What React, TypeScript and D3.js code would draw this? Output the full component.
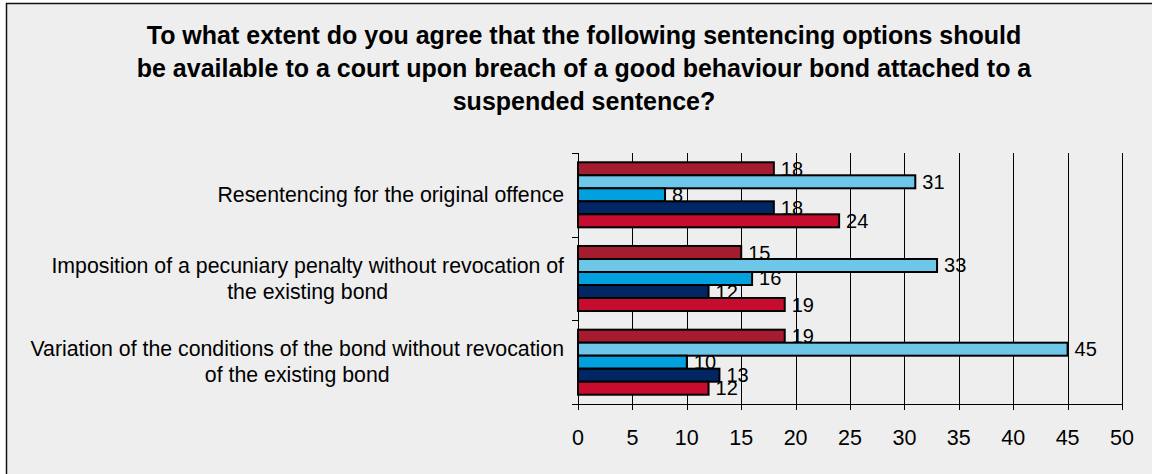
import * as React from 'react';
import * as d3 from 'd3';

// chart data
const categories: string[][] = [
  ['Resentencing for the original offence'],
  ['Imposition of a pecuniary penalty without revocation of', 'the existing bond'],
  ['Variation of the conditions of the bond without revocation', 'of the existing bond'],
];
const seriesNames = ['Series 1', 'Series 2', 'Series 3', 'Series 4', 'Series 5'];
const seriesColors = ['#A51C30', '#6EC6E9', '#00A1DE', '#002663', '#C70D2F'];
// values[category][series]
const values: number[][] = [
  [18, 31, 8, 18, 24],
  [15, 33, 16, 12, 19],
  [19, 45, 10, 13, 12],
];
const xTicks = [0, 5, 10, 15, 20, 25, 30, 35, 40, 45, 50];
const titleLines = [
  'To what extent do you agree that the following sentencing options should',
  'be available to a court upon breach of a good behaviour bond attached to a',
  'suspended sentence?',
];

const W = 1152;
const H = 474;
const FONT = 'Liberation Sans, Arial, sans-serif';

function measure(text: string, size: number): number {
  const c = document.createElement('canvas').getContext('2d');
  if (!c) return text.length * size * 0.5;
  c.font = `${size}px "Liberation Sans", Arial, sans-serif`;
  return c.measureText(text).width;
}

export default function App() {
  const margin = { left: 578, right: 1122, top: 153, bottom: 404 };

  const x = d3.scaleLinear().domain([0, 50]).range([margin.left, margin.right]);
  const y = d3
    .scaleBand<number>()
    .domain(d3.range(categories.length))
    .range([margin.top, margin.bottom])
    .paddingInner(0.223)
    .paddingOuter(0.111);
  const ySub = d3
    .scaleBand<number>()
    .domain(d3.range(seriesNames.length))
    .range([0, y.bandwidth()]);

  const step = y.step();
  const bounds = d3.range(categories.length + 1).map((i) => margin.top + i * step);

  const labelSize = 21.3;
  const lineH = 26;

  return (
    <svg
      width={W}
      height={H}
      style={{ position: 'absolute', left: 0, top: 0, background: '#fff' }}
      fontFamily={FONT}
    >
      <rect x={6.5} y={3.5} width={W + 50} height={H + 50} fill="#EEEEEE" stroke="#111" strokeWidth={1.5} />

      {/* title */}
      <g fontSize={25} fontWeight="bold" textAnchor="middle" fill="#000">
        {titleLines.map((t, i) => (
          <text key={i} x={584} y={44 + i * 33}>
            {t}
          </text>
        ))}
      </g>

      {/* gridlines */}
      <g stroke="#000" strokeWidth={1}>
        {xTicks.map((t) => (
          <line key={t} x1={Math.round(x(t)) + 0.5} x2={Math.round(x(t)) + 0.5} y1={margin.top} y2={margin.bottom + 6} />
        ))}
      </g>

      {/* y axis */}
      <g stroke="#000" strokeWidth={1}>
        <line x1={margin.left + 0.5} x2={margin.left + 0.5} y1={margin.top} y2={margin.bottom} />
        {bounds.map((b, i) => (
          <line key={i} x1={margin.left - 6} x2={margin.left} y1={Math.round(b) + 0.5} y2={Math.round(b) + 0.5} />
        ))}
        <line x1={margin.left - 6} x2={margin.right} y1={margin.bottom + 0.5} y2={margin.bottom + 0.5} />
      </g>

      {/* bars */}
      {values.map((row, ci) => (
        <g key={ci} transform={`translate(0, ${y(ci)})`}>
          {row.map((v, si) => (
            <rect
              key={si}
              x={x(0)}
              y={ySub(si)!}
              width={x(v) - x(0)}
              height={ySub.bandwidth()}
              fill={seriesColors[si]}
              stroke="#000"
              strokeWidth={2}
            />
          ))}
          {row.map((v, si) => (
            <text
              key={'l' + si}
              x={x(v) + 7}
              y={ySub(si)! + ySub.bandwidth() / 2 + 7}
              fontSize={20}
              fill="#000"
            >
              {v}
            </text>
          ))}
        </g>
      ))}

      {/* category labels */}
      <g fontSize={labelSize} fill="#000" textAnchor="middle">
        {categories.map((lines, ci) => {
          const widest = d3.max(lines, (l) => measure(l, labelSize)) || 0;
          const cx = 564 - widest / 2;
          const cy = y(ci)! + y.bandwidth() / 2;
          const y0 = cy - ((lines.length - 1) * lineH) / 2 + 7;
          return lines.map((l, li) => (
            <text key={ci + '-' + li} x={cx} y={y0 + li * lineH}>
              {l}
            </text>
          ));
        })}
      </g>

      {/* x tick labels */}
      <g fontSize={21.5} textAnchor="middle" fill="#000">
        {xTicks.map((t) => (
          <text key={t} x={x(t)} y={445}>
            {t}
          </text>
        ))}
      </g>
    </svg>
  );
}
